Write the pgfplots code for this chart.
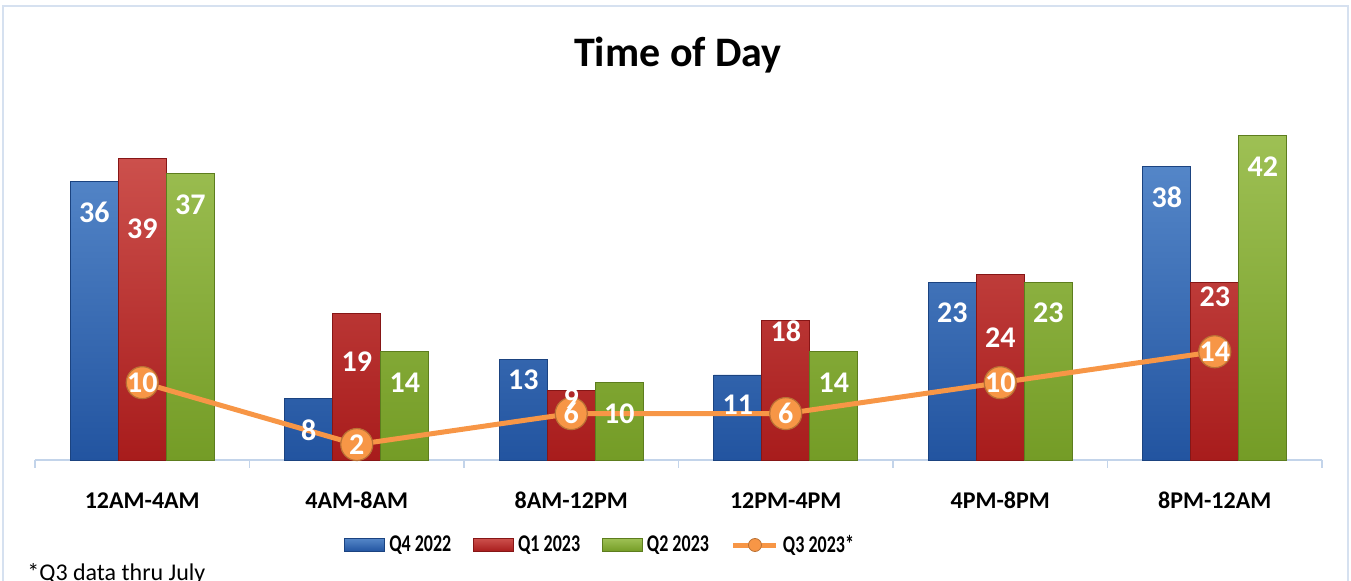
\documentclass[border=0pt]{standalone}
\usepackage{pgfplots}
\pgfplotsset{compat=1.18}
\usepackage{pgfplotstable}
\usepackage{fontspec}
\setmainfont{Carlito}

\definecolor{qblue}{RGB}{84,134,200}
\definecolor{qbluedk}{RGB}{34,84,160}
\definecolor{qred}{RGB}{204,80,76}
\definecolor{qreddk}{RGB}{168,28,28}
\definecolor{qgreen}{RGB}{158,192,84}
\definecolor{qgreendk}{RGB}{116,156,38}
\definecolor{qorange}{RGB}{247,150,70}
\definecolor{frameline}{RGB}{214,225,240}
\definecolor{axisline}{RGB}{195,212,234}

% x, bar values, label shift (pt) for each bar series, line values
\pgfplotstableread{
x q4 d4 q1 d1 q2 d2 q3
0 36 -15.5 39 -35   37 -15.5 10
1 8  -16   19 -24.5 14 -15.5 2
2 13 -10   9  -4    10 -15.5 6
3 11 -15   18 -5    14 -15.5 6
4 23 -15.5 24 -31.5 23 -15.5 10
5 38 -15.5 23 -7.5  42 -15.5 14
}\timedata

\newcommand\narrow[1]{\scalebox{0.75}[1]{#1}}

\pgfplotsset{
  barlabel/.style 2 args={
    nodes near coords,
    visualization depends on={\thisrow{#1} \as \dy},
    every node near coord/.append style={anchor=center, yshift=\dy, xshift=#2,
      text=white, font=\bfseries\fontsize{15}{15}\selectfont},
  },
  barlegend/.style={legend image code/.code={
    \draw[##1] (0pt,-3.25pt) rectangle (20pt,3.25pt);}},
}

\begin{document}
\begin{tikzpicture}
\begin{axis}[
  at={(0,0)}, anchor=south west,
  scale only axis, width=643.5pt, height=174pt,
  xmin=-0.5, xmax=5.5, ymin=0, ymax=45,
  /pgf/number format/assume math mode=true,
  hide y axis,
  axis x line*=bottom,
  x axis line style={-, draw=axisline, line width=0.8pt},
  xtick={0,...,5},
  xticklabels={12AM-4AM,4AM-8AM,8AM-12PM,12PM-4PM,4PM-8PM,8PM-12AM},
  major x tick style={draw=none},
  minor xtick={-0.5,0.5,...,5.5},
  minor x tick style={draw=axisline, line width=0.8pt},
  minor tick length=4pt,
  xtick align=outside,
  xticklabel style={anchor=base, yshift=-20pt,
    font=\bfseries\fontsize{12}{12}\selectfont},
  legend style={draw=none, fill=none, legend columns=4,
    at={(0.2355,-0.2443)}, anchor=west,
    font=\bfseries\fontsize{12}{12}\selectfont,
    /tikz/every even column/.append style={column sep=9pt}},
  clip=false,
]
\addplot[ybar, bar width=24pt, bar shift=-24pt,
  top color=qblue, bottom color=qbluedk, draw=qbluedk!80!black,
  barlabel={d4}{-24pt}, barlegend] table[x=x, y=q4] {\timedata};
\addlegendentry{\narrow{Q4 2022}}
\addplot[ybar, bar width=24pt, bar shift=0pt,
  top color=qred, bottom color=qreddk, draw=qreddk!80!black,
  barlegend] table[x=x, y=q1] {\timedata};
\addlegendentry{\narrow{Q1 2023}}
\addplot[ybar, bar width=24pt, bar shift=24pt,
  top color=qgreen, bottom color=qgreendk, draw=qgreendk!80!black,
  barlabel={d2}{24pt}, barlegend] table[x=x, y=q2] {\timedata};
\addlegendentry{\narrow{Q2 2023}}
\addplot[sharp plot, qorange, line width=2.5pt,
  mark=*, mark size=8pt,
  mark options={fill=qorange, draw=qorange!75!black, line width=0.6pt},
  nodes near coords,
  every node near coord/.append style={anchor=center, text=white,
    font=\bfseries\fontsize{15}{15}\selectfont},
  legend image code/.code={
    \draw[qorange, line width=2.5pt] (0pt,0pt) -- (21.5pt,0pt);
    \draw[fill=qorange, draw=qorange!75!black, line width=0.4pt] (10.75pt,0pt) circle (3.25pt);}
  ] table[x=x, y=q3] {\timedata};
\addlegendentry{\narrow{Q3 2023*}}
% Q1 2023 labels, drawn last so that they sit above the line
\addplot[draw=none, mark=none, forget plot, barlabel={d1}{0pt}]
  table[x=x, y=q1] {\timedata};
\end{axis}
\node[anchor=base, font=\bfseries\fontsize{21}{21}\selectfont] at (321.5pt,196.5pt) {Time of Day};
\node[anchor=base west, font=\fontsize{12}{12}\selectfont, inner sep=0pt] at (-4pt,-60.25pt) {*Q3 data thru July};
\draw[frameline, line width=1pt] (-16pt,227pt) rectangle (656.5pt,-80pt);
\pgfresetboundingbox
\path[use as bounding box] (-17.5pt,-60.5pt) rectangle (658pt,230pt);
\end{tikzpicture}
\end{document}
